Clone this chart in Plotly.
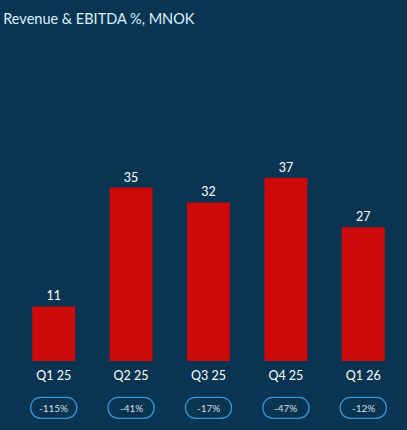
import plotly.graph_objects as go

categories = ["Q1 25", "Q2 25", "Q3 25", "Q4 25", "Q1 26"]
revenue = [11, 35, 32, 37, 27]
ebitda_pct = ["-115%", "-41%", "-17%", "-47%", "-12%"]

BG = "#0a3552"
BAR = "#cc0a0a"
FONT = "Lato, Open Sans, sans-serif"

fig = go.Figure()
fig.add_trace(go.Bar(
    x=categories, y=revenue,
    marker=dict(color=BAR, line=dict(width=0)),
    text=[str(v) for v in revenue], textposition="outside",
    textfont=dict(color="#ffffff", size=12.5, family=FONT),
    cliponaxis=False,
))

# Pill shapes with EBITDA % under each category
w, h, r = 23, 10.5, 10.5
pill = (f"M {-w + r},{-h} L {w - r},{-h} C {w + r*0.35},{-h} {w + r*0.35},{h} {w - r},{h} "
        f"L {-w + r},{h} C {-w - r*0.35},{h} {-w - r*0.35},{-h} {-w + r},{-h} Z")
pill_y = -0.21
for i, lbl in enumerate(ebitda_pct):
    fig.add_shape(type="path", xref="x", yref="paper",
                  xsizemode="pixel", ysizemode="pixel",
                  xanchor=i, yanchor=pill_y, path=pill,
                  line=dict(color="#3597d8", width=1.3), fillcolor="rgba(0,0,0,0)")
    fig.add_annotation(x=i, y=pill_y, xref="x", yref="paper", text=lbl,
                       showarrow=False, font=dict(color="#d6dde5", size=10, family=FONT),
                       xanchor="center", yanchor="middle")

fig.update_layout(
    width=407, height=430,
    paper_bgcolor=BG, plot_bgcolor=BG,
    margin=dict(l=15, r=5, t=138, b=69),
    bargap=0.445,
    showlegend=False,
    title=dict(text="Revenue & EBITDA %, MNOK", x=0.008, xanchor="left",
               y=1 - 18.5 / 430, yanchor="middle",
               font=dict(color="#dcefff", size=14.5, family=FONT)),
    xaxis=dict(showgrid=False, showline=False, zeroline=False, ticks="",
               ticklabelstandoff=5,
               tickfont=dict(color="#ffffff", size=12.5, family=FONT)),
    yaxis=dict(visible=False, range=[0, 45], showgrid=False, zeroline=False),
)

fig.write_html("out.html")
